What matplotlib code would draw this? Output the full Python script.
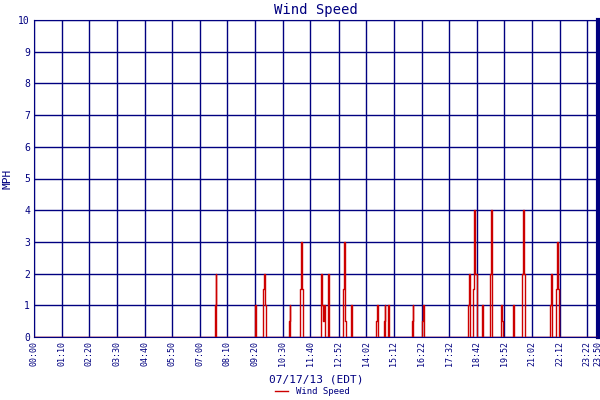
import matplotlib
matplotlib.use('Agg')
import matplotlib.pyplot as plt

# wind speed samples (minutes after midnight, mph); zero elsewhere
ev_min = [459, 461, 560, 563, 581, 583, 586, 647, 649, 674, 677, 680, 682,
          728, 730, 733, 735, 738, 745, 748, 783, 786, 789, 804, 806,
          867, 870, 887, 890, 898, 900, 958, 961, 984, 986, 989,
          1100, 1103, 1105, 1113, 1116, 1118, 1121, 1136, 1138,
          1156, 1159, 1161, 1184, 1187, 1214, 1217, 1237, 1240, 1243,
          1308, 1311, 1313, 1324, 1326, 1329]
ev_val = [1, 2, 1, 0.5, 1.5, 2, 1, 0.5, 1, 1.5, 3, 1.5, 0.5,
          2, 1, 0.5, 1, 1, 2, 1, 1.5, 3, 0.5, 1, 0.5,
          0.5, 1, 0.5, 1, 1, 0.5, 0.5, 1, 0.5, 1, 0.5,
          1, 2, 1, 1.5, 4, 2, 2, 1, 0.5,
          2, 4, 2, 1, 0.5, 1, 0.5, 2, 4, 2,
          1, 2, 1, 1.5, 3, 1.5]
tick_labels = ['00:00', '01:10', '02:20', '03:30', '04:40', '05:50', '07:00',
               '08:10', '09:20', '10:30', '11:40', '12:52', '14:02', '15:12',
               '16:22', '17:32', '18:42', '19:52', '21:02', '22:12', '23:22', '23:50']

navy = '#000080'
red = '#cc0000'
mono = 'DejaVu Sans Mono'

# build series: drop back to zero between separate readings
xs, ys = [0], [0]
for i, (t, v) in enumerate(zip(ev_min, ev_val)):
    if i == 0 or t - ev_min[i - 1] > 3:
        xs.append(t - 1); ys.append(0)
    xs.append(t); ys.append(v)
    if i == len(ev_min) - 1 or ev_min[i + 1] - t > 3:
        xs.append(t + 1); ys.append(0)
xs.append(1430); ys.append(0)

def to_min(s):
    h, m = s.split(':')
    return int(h) * 60 + int(m)

fig = plt.figure(figsize=(6, 4), dpi=100)
ax = fig.add_axes([0.057, 0.1575, 0.94, 0.7925])
ax.plot(xs, ys, color=red, lw=1, drawstyle='steps-mid', label='Wind Speed', zorder=3)
ax.set_xlim(0, 1430)
ax.set_ylim(0, 10)
ax.set_xticks([to_min(s) for s in tick_labels])
ax.set_xticklabels(tick_labels, rotation=90, fontsize=6, color=navy, family=mono)
ax.set_yticks(range(11))
ax.set_yticklabels([str(i) for i in range(11)], fontsize=7, color=navy, family=mono)
ax.grid(True, color=navy, lw=1)
ax.tick_params(length=0, pad=3)
for s in ax.spines.values():
    s.set_color(navy)
ax.spines['right'].set_linewidth(3)
ax.set_title('Wind Speed', color=navy, family=mono, fontsize=10, pad=4)
ax.set_ylabel('MPH', color=navy, family=mono, fontsize=8)
ax.set_xlabel('07/17/13 (EDT)', color=navy, family=mono, fontsize=8, labelpad=6)
fig.legend(loc='lower center', bbox_to_anchor=(0.52, -0.01), frameon=False,
           prop={'family': mono, 'size': 6.5}, labelcolor=navy, handlelength=1.5)
fig.savefig('out.png', dpi=100)
